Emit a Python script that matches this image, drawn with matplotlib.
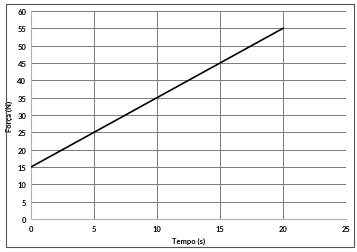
import matplotlib.pyplot as plt
from matplotlib.patches import Rectangle

tempo = [0, 20]
forca = [15, 55]
x_ticks = [0, 5, 10, 15, 20, 25]
y_ticks = list(range(0, 61, 5))

plt.rcParams['font.family'] = ['Lato', 'DejaVu Sans']

fig = plt.figure(figsize=(3.57, 2.53), dpi=100)
W, H = 357, 253
ax = fig.add_axes([31 / W, 1 - 220 / H, (346 - 31) / W, (220 - 12) / H])

ax.plot(tempo, forca, color='black', linewidth=1.2, zorder=3)

ax.set_xlim(0, 25)
ax.set_ylim(0, 60)
ax.set_xticks(x_ticks)
ax.set_yticks(y_ticks)
ax.grid(True, color='#7a7a7a', linewidth=0.7)
ax.tick_params(axis='x', length=0, labelsize=5.5, pad=4.3)
ax.tick_params(axis='y', length=0, labelsize=5.5, pad=3.3)
for lbl in ax.get_xticklabels() + ax.get_yticklabels():
    lbl.set_fontweight('bold')
for side in ['top', 'right']:
    ax.spines[side].set_visible(False)
for side in ['left', 'bottom']:
    ax.spines[side].set_color('#b0b0b0')
    ax.spines[side].set_linewidth(0.8)

ax.set_xlabel('Tempo (s)', fontsize=5.5, fontweight='bold', labelpad=3.5)
ax.set_ylabel('Força (N)', fontsize=5.5, fontweight='bold', labelpad=3)

# outer frame
fig.patches.append(Rectangle((6 / W, 1 - 248 / H), (354 - 6) / W, (248 - 5) / H,
                             transform=fig.transFigure, fill=False,
                             edgecolor='#555555', linewidth=0.8))

fig.savefig('out.png', dpi=100)
